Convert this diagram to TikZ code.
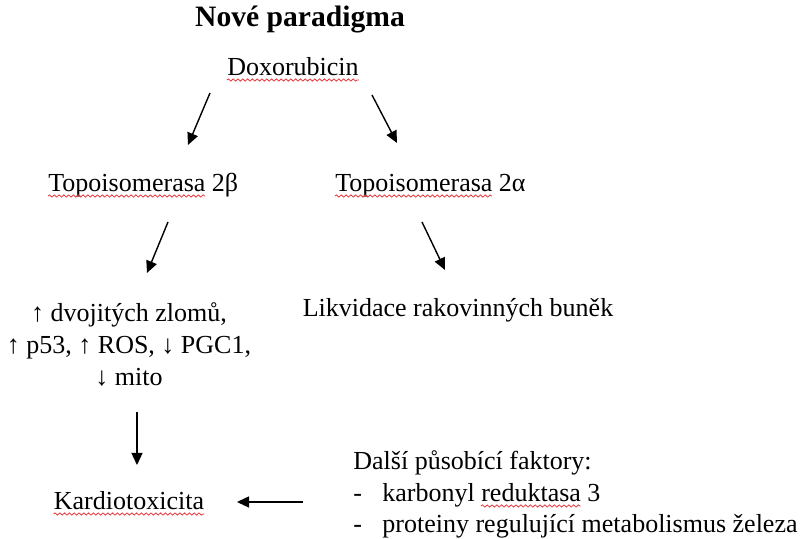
\documentclass[tikz,border=0pt]{standalone}
\usepackage{fontspec}
\setmainfont{Liberation Serif}
\usetikzlibrary{arrows.meta,calc,decorations.pathmorphing}
\definecolor{spellred}{HTML}{E8383D}

\begin{document}
\fontsize{13}{16}\selectfont
\begin{tikzpicture}[x=0.5pt, y=-0.5pt,
    txt/.style = {anchor=base, inner sep=0pt},
    arr/.style = {-{Triangle[length=6pt,width=5.5pt]}, line width=0.7pt},
    spell/.style = {spellred, line width=0.4pt,
      decorate, decoration={snake, amplitude=0.55pt, segment length=2.4pt}}]
    \useasboundingbox (0,0) rectangle (800,539);

    \node[txt, font=\bfseries\fontsize{14.8}{17}\selectfont] (title) at (300,27) {Nové paradigma};
    \node[txt] (dox) at (293,76) {Doxorubicin};
    \node[txt, anchor=base west] (top2b) at (48,192) {Topoisomerasa 2β};
    \node[txt, anchor=base west] (top2a) at (335,192) {Topoisomerasa 2α};
    \node[txt, align=center] (zlomy) at (129,386) {↑ dvojitých zlomů,\\ ↑ p53, ↑ ROS, ↓ PGC1,\\ ↓ mito};
    \node[txt] (likv) at (458,317) {Likvidace rakovinných buněk};
    \node[txt] (kardio) at (129,510) {Kardiotoxicita};
    \node[txt, anchor=base west] (dalsi) at (353,470) {Další působící faktory:};
    \node[txt, anchor=base west] (pom1) at (353,502) {-};
    \node[txt, anchor=base west] (karb) at (382,502) {karbonyl reduktasa 3};
    \node[txt, anchor=base west] (pom2) at (353,533) {-};
    \node[txt, anchor=base west] (prot) at (382,533) {proteiny regulující metabolismus železa};

    % arrow ends
    \coordinate (a1s) at (210,93);  \coordinate (a1e) at (188,145);
    \coordinate (a2s) at (372,95);  \coordinate (a2e) at (397,143);
    \coordinate (a3s) at (168,222); \coordinate (a3e) at (147,273);
    \coordinate (a4s) at (422,222); \coordinate (a4e) at (445,270);
    \coordinate (a5s) at (137,412); \coordinate (a5e) at (137,465);
    \coordinate (a6s) at (303,502); \coordinate (a6e) at (237,502);

    \draw[arr] (a1s) -- (a1e);
    \draw[arr] (a2s) -- (a2e);
    \draw[arr] (a3s) -- (a3e);
    \draw[arr] (a4s) -- (a4e);
    \draw[arr] (a5s) -- (a5e);
    \draw[arr] (a6s) -- (a6e);

    % spell-check underlines
    \pgfmathwidth{"Topoisomerasa"}\let\wtopo\pgfmathresult
    \pgfmathwidth{"reduktasa"}\let\wred\pgfmathresult
    \pgfmathwidth{"karbonyl reduktasa"}\let\wkarb\pgfmathresult
    \draw[spell] ($(dox.base west)+(0,-2pt)$) -- ($(dox.base east)+(0,-2pt)$);
    \draw[spell] ($(top2b.base west)+(0,-2pt)$) -- ($(top2b.base west)+(\wtopo pt,-2pt)$);
    \draw[spell] ($(top2a.base west)+(0,-2pt)$) -- ($(top2a.base west)+(\wtopo pt,-2pt)$);
    \draw[spell] ($(kardio.base west)+(0,-2pt)$) -- ($(kardio.base east)+(0,-2pt)$);
    \draw[spell] ($(karb.base west)+(\wkarb pt-\wred pt,-2pt)$) -- ($(karb.base west)+(\wkarb pt,-2pt)$);
\end{tikzpicture}
\end{document}
